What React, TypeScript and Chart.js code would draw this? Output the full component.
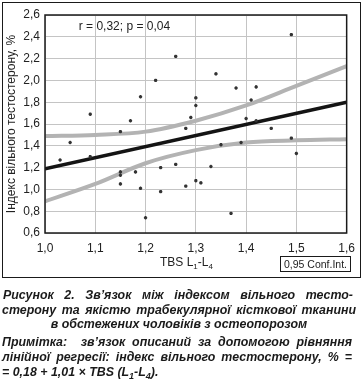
import React, { useEffect, useRef } from "react";
import { Chart, registerables } from "chart.js";

Chart.register(...registerables);

// Scatter points: TBS L1-L4 (x) vs free testosterone index, % (y)
const TBS_VALUES = [
  1.03, 1.05, 1.09, 1.09, 1.15, 1.17, 1.19, 1.22, 1.26, 1.28,
  1.29, 1.30, 1.30, 1.34, 1.38, 1.42, 1.41, 1.40, 1.42, 1.45,
  1.49, 1.49, 1.50, 1.35, 1.39, 1.33, 1.30, 1.31, 1.37, 1.15,
  1.15, 1.18, 1.23, 1.26, 1.15, 1.19, 1.23, 1.28, 1.20,
];
const FTI_VALUES = [
  1.27, 1.43, 1.69, 1.30, 1.53, 1.63, 1.85, 2.00, 2.22, 1.56,
  1.66, 1.84, 1.77, 2.06, 1.93, 1.94, 1.82, 1.65, 1.63, 1.56,
  2.42, 1.47, 1.33, 1.41, 1.43, 1.21, 1.08, 1.06, 0.78, 1.16,
  1.13, 1.16, 1.20, 1.23, 1.05, 1.01, 0.98, 1.03, 0.74,
];

// Regression line endpoints
const REG_X = [1.0, 1.6];
const REG_Y = [1.19, 1.8];

// 0.95 confidence band
const BAND_X = [1.0, 1.1, 1.2, 1.3, 1.4, 1.5, 1.6];
const BAND_UPPER = [1.49, 1.5, 1.53, 1.63, 1.77, 1.95, 2.13];
const BAND_LOWER = [0.89, 1.05, 1.24, 1.36, 1.43, 1.45, 1.46];

const X_MIN = 1.0;
const X_MAX = 1.6;
const X_STEP = 0.1;
const Y_MIN = 0.6;
const Y_MAX = 2.6;
const Y_STEP = 0.2;

const ANNOTATION = "r = 0,32; p = 0,04";
const ANN_X = 1.158;
const ANN_Y = 2.49;

const Y_TITLE = "Індекс вільного тестостерону, %";
const LEGEND_TEXT = "0,95 Conf.Int.";

const FONT = '"Liberation Sans", Arial, sans-serif';

const pts = (xs: number[], ys: number[]) => xs.map((x, i) => ({ x, y: ys[i] }));
const fmt = (v: number) => v.toFixed(1).replace(".", ",");

const framePlugin = {
  id: "frameAndText",
  afterDraw(chart: any) {
    const { ctx, chartArea } = chart;
    const { left, top, right, bottom } = chartArea;
    ctx.save();
    ctx.strokeStyle = "#1a1a1a";
    ctx.lineWidth = 1.5;
    ctx.strokeRect(left, top, right - left, bottom - top);
    ctx.font = `12px ${FONT}`;
    ctx.fillStyle = "#222";
    ctx.textAlign = "center";
    ctx.textBaseline = "middle";
    ctx.fillText(
      ANNOTATION,
      chart.scales.x.getPixelForValue(ANN_X),
      chart.scales.y.getPixelForValue(ANN_Y)
    );
    ctx.restore();
  },
};

function ScatterChart() {
  const ref = useRef<HTMLCanvasElement | null>(null);
  useEffect(() => {
    if (!ref.current) return;
    const chart = new Chart(ref.current, {
      type: "scatter",
      data: {
        datasets: [
          {
            label: "data",
            data: pts(TBS_VALUES, FTI_VALUES),
            pointStyle: "star",
            pointRadius: 1.7,
            borderWidth: 1.1,
            borderColor: "#333",
            backgroundColor: "#333",
          },
          {
            label: "regression",
            data: pts(REG_X, REG_Y),
            showLine: true,
            pointRadius: 0,
            borderColor: "#141414",
            borderWidth: 3.5,
          },
          {
            label: "upper",
            data: pts(BAND_X, BAND_UPPER),
            showLine: true,
            pointRadius: 0,
            borderColor: "#b3b3b3",
            borderWidth: 4,
            cubicInterpolationMode: "monotone",
          },
          {
            label: "lower",
            data: pts(BAND_X, BAND_LOWER),
            showLine: true,
            pointRadius: 0,
            borderColor: "#b3b3b3",
            borderWidth: 4,
            cubicInterpolationMode: "monotone",
          },
        ],
      },
      options: {
        animation: false,
        responsive: false,
        layout: { padding: { top: 15, right: 14, left: 0, bottom: 0 } },
        plugins: { legend: { display: false }, tooltip: { enabled: false } },
        scales: {
          x: {
            type: "linear",
            min: X_MIN,
            max: X_MAX,
            afterFit: (s: any) => {
              s.height = 47;
            },
            ticks: {
              stepSize: X_STEP,
              padding: 8,
              color: "#222",
              font: { family: FONT, size: 12 },
              callback: (v: any) => fmt(Number(v)),
            },
            grid: { color: "#c4c4c4", lineWidth: 1, drawTicks: false },
            border: { display: false },
          },
          y: {
            type: "linear",
            min: Y_MIN,
            max: Y_MAX,
            afterFit: (s: any) => {
              s.width = 45;
            },
            ticks: {
              stepSize: Y_STEP,
              padding: 5,
              color: "#222",
              font: { family: FONT, size: 12 },
              callback: (v: any) => fmt(Number(v)),
            },
            title: {
              display: true,
              text: Y_TITLE,
              color: "#222",
              font: { family: FONT, size: 12 },
              padding: { top: 4, bottom: 0 },
            },
            grid: { color: "#c4c4c4", lineWidth: 1, drawTicks: false },
            border: { display: false },
          },
        },
      },
      plugins: [framePlugin],
    } as any);
    return () => chart.destroy();
  }, []);
  return (
    <canvas
      ref={ref}
      width={363}
      height={280}
      style={{ position: "absolute", left: 0, top: 0, width: 363, height: 280 }}
    />
  );
}

const captionBase: React.CSSProperties = {
  position: "absolute",
  left: 2,
  width: 354,
  height: 15,
  lineHeight: "15px",
  fontFamily: FONT,
  fontSize: 12.4,
  fontWeight: "bold",
  fontStyle: "italic",
  color: "#1a1a1a",
  whiteSpace: "nowrap",
};
const justified: React.CSSProperties = {
  ...captionBase,
  textAlign: "justify",
  textAlignLast: "justify" as any,
};

export default function App() {
  return (
    <div
      style={{
        position: "absolute",
        left: 0,
        top: 0,
        width: 363,
        height: 387,
        background: "#fff",
        overflow: "hidden",
        fontFamily: FONT,
      }}
    >
      <div
        style={{
          position: "absolute",
          left: 1.5,
          top: 1.5,
          width: 357,
          height: 274,
          border: "1.5px solid #1a1a1a",
        }}
      />
      <ScatterChart />
      <div
        style={{
          position: "absolute",
          left: 160,
          top: 255,
          fontSize: 12,
          color: "#222",
          lineHeight: "14px",
          whiteSpace: "nowrap",
        }}
      >
        TBS L<sub style={{ fontSize: 8 }}>1</sub>-L<sub style={{ fontSize: 8 }}>4</sub>
      </div>
      <div
        style={{
          position: "absolute",
          left: 280,
          top: 256,
          width: 71,
          height: 16,
          border: "1px solid #1a1a1a",
          fontSize: 10.5,
          lineHeight: "14px",
          textAlign: "center",
          color: "#222",
          whiteSpace: "nowrap",
          boxSizing: "border-box",
        }}
      >
        {LEGEND_TEXT}
      </div>
      <div style={{ ...justified, left: 3, width: 350, top: 287.5 }}>
        Рисунок 2. Зв’язок між індексом вільного тесто-
      </div>
      <div style={{ ...justified, top: 303 }}>
        стерону та якістю трабекулярної кісткової тканини
      </div>
      <div style={{ ...captionBase, top: 317, textAlign: "center" }}>
        в обстежених чоловіків з остеопорозом
      </div>
      <div style={{ ...justified, width: 350, top: 335 }}>
        Примітка:&nbsp; зв’язок описаний за допомогою рівняння
      </div>
      <div style={{ ...justified, width: 350, top: 350 }}>
        лінійної регресії: індекс вільного тестостерону, % =
      </div>
      <div style={{ ...captionBase, top: 364.5 }}>
        = 0,18 + 1,01 × TBS (L<sub style={{ fontSize: 9 }}>1</sub>-L
        <sub style={{ fontSize: 9 }}>4</sub>).
      </div>
    </div>
  );
}
